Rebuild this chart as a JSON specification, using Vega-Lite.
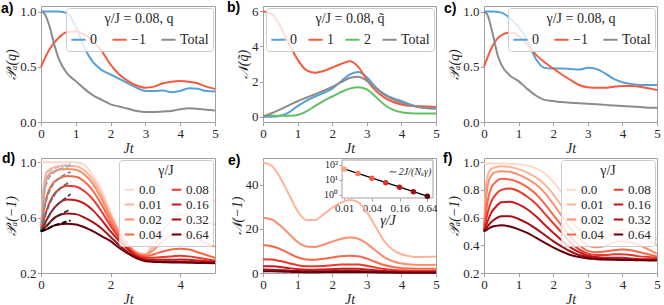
{
"$schema":"https://vega.github.io/schema/vega-lite/v6.json",
"padding":{"left":0,"top":0,"right":0,"bottom":0},
"config":{
"font":"Liberation Serif",
"view":{"stroke":"#a0a0a0","strokeWidth":1},
"axis":{"domain":false,"grid":false,"tickColor":"#a0a0a0","tickSize":3.5,"labelFont":"Liberation Serif","labelFontSize":13,"labelColor":"#262626","titleFont":"Liberation Serif","titleFontSize":14,"titleFontWeight":"normal","titleFontStyle":"italic","titleColor":"#262626","labelPadding":1.5,"labelFlush":false,"labelOverlap":false},
"axisX":{"titlePadding":1},
"axisY":{"titlePadding":1},
"legend":{"orient":"top-right","offset":2,"padding":4,"fillColor":"rgba(255,255,255,0.8)","strokeColor":"#cccccc","cornerRadius":3,"titleFont":"Liberation Serif","titleFontStyle":"normal","titleFontWeight":"normal","titleFontSize":14,"titleColor":"#262626","labelFont":"Liberation Serif","labelFontSize":14,"labelColor":"#262626","symbolType":"stroke","symbolStrokeWidth":2,"symbolSize":200,"titleAnchor":"middle","labelOffset":3,"columnPadding":11},
"title":{"font":"Liberation Sans","fontSize":14,"fontWeight":"bold","anchor":"start","frame":"group","color":"#000000","baseline":"alphabetic","offset":0}
},
"datasets":{
"a":[
{"s":"0","t":0,"v":1},{"s":"0","t":0.25,"v":1},{"s":"0","t":0.5,"v":1},{"s":"0","t":0.75,"v":0.985},{"s":"0","t":1,"v":0.86},{"s":"0","t":1.25,"v":0.67},{"s":"0","t":1.5,"v":0.54},{"s":"0","t":1.75,"v":0.47},{"s":"0","t":2,"v":0.43},{"s":"0","t":2.25,"v":0.39},{"s":"0","t":2.5,"v":0.35},{"s":"0","t":2.75,"v":0.31},{"s":"0","t":3,"v":0.28},{"s":"0","t":3.25,"v":0.28},{"s":"0","t":3.5,"v":0.285},{"s":"0","t":3.75,"v":0.27},{"s":"0","t":4,"v":0.28},{"s":"0","t":4.25,"v":0.305},{"s":"0","t":4.5,"v":0.3},{"s":"0","t":4.75,"v":0.28},{"s":"0","t":5,"v":0.275},
{"s":"−1","t":0,"v":0.5},{"s":"−1","t":0.25,"v":0.66},{"s":"−1","t":0.5,"v":0.76},{"s":"−1","t":0.75,"v":0.815},{"s":"−1","t":1,"v":0.82},{"s":"−1","t":1.25,"v":0.79},{"s":"−1","t":1.5,"v":0.73},{"s":"−1","t":1.75,"v":0.64},{"s":"−1","t":2,"v":0.52},{"s":"−1","t":2.25,"v":0.43},{"s":"−1","t":2.5,"v":0.37},{"s":"−1","t":2.75,"v":0.33},{"s":"−1","t":3,"v":0.31},{"s":"−1","t":3.25,"v":0.32},{"s":"−1","t":3.5,"v":0.35},{"s":"−1","t":3.75,"v":0.365},{"s":"−1","t":4,"v":0.37},{"s":"−1","t":4.25,"v":0.365},{"s":"−1","t":4.5,"v":0.35},{"s":"−1","t":4.75,"v":0.32},{"s":"−1","t":5,"v":0.3},
{"s":"Total","t":0,"v":1},{"s":"Total","t":0.1,"v":0.98},{"s":"Total","t":0.25,"v":0.86},{"s":"Total","t":0.4,"v":0.68},{"s":"Total","t":0.5,"v":0.58},{"s":"Total","t":0.75,"v":0.44},{"s":"Total","t":1,"v":0.37},{"s":"Total","t":1.25,"v":0.3},{"s":"Total","t":1.5,"v":0.24},{"s":"Total","t":1.75,"v":0.2},{"s":"Total","t":2,"v":0.16},{"s":"Total","t":2.25,"v":0.14},{"s":"Total","t":2.5,"v":0.12},{"s":"Total","t":2.75,"v":0.1},{"s":"Total","t":3,"v":0.09},{"s":"Total","t":3.25,"v":0.09},{"s":"Total","t":3.5,"v":0.095},{"s":"Total","t":3.75,"v":0.1},{"s":"Total","t":4,"v":0.115},{"s":"Total","t":4.25,"v":0.125},{"s":"Total","t":4.5,"v":0.12},{"s":"Total","t":4.75,"v":0.11},{"s":"Total","t":5,"v":0.105}
],
"b":[
{"s":"0","t":0,"v":0},{"s":"0","t":0.25,"v":0},{"s":"0","t":0.5,"v":0.05},{"s":"0","t":0.75,"v":0.25},{"s":"0","t":1,"v":0.6},{"s":"0","t":1.25,"v":0.9},{"s":"0","t":1.5,"v":1.15},{"s":"0","t":1.75,"v":1.35},{"s":"0","t":2,"v":1.6},{"s":"0","t":2.25,"v":2},{"s":"0","t":2.5,"v":2.4},{"s":"0","t":2.75,"v":2.55},{"s":"0","t":3,"v":2.25},{"s":"0","t":3.25,"v":1.7},{"s":"0","t":3.5,"v":1.3},{"s":"0","t":3.75,"v":1.05},{"s":"0","t":4,"v":0.9},{"s":"0","t":4.25,"v":0.7},{"s":"0","t":4.5,"v":0.55},{"s":"0","t":4.75,"v":0.48},{"s":"0","t":5,"v":0.45},
{"s":"1","t":0,"v":6},{"s":"1","t":0.25,"v":5.85},{"s":"1","t":0.5,"v":5.15},{"s":"1","t":0.75,"v":4.15},{"s":"1","t":1,"v":3.25},{"s":"1","t":1.25,"v":2.65},{"s":"1","t":1.5,"v":2.5},{"s":"1","t":1.75,"v":2.6},{"s":"1","t":2,"v":2.8},{"s":"1","t":2.25,"v":3},{"s":"1","t":2.5,"v":3.15},{"s":"1","t":2.75,"v":2.85},{"s":"1","t":3,"v":2.1},{"s":"1","t":3.25,"v":1.5},{"s":"1","t":3.5,"v":1.1},{"s":"1","t":3.75,"v":0.85},{"s":"1","t":4,"v":0.7},{"s":"1","t":4.25,"v":0.62},{"s":"1","t":4.5,"v":0.6},{"s":"1","t":4.75,"v":0.58},{"s":"1","t":5,"v":0.56},
{"s":"2","t":0,"v":0.05},{"s":"2","t":0.25,"v":0.05},{"s":"2","t":0.5,"v":0.05},{"s":"2","t":0.75,"v":0.06},{"s":"2","t":1,"v":0.1},{"s":"2","t":1.25,"v":0.3},{"s":"2","t":1.5,"v":0.6},{"s":"2","t":1.75,"v":0.9},{"s":"2","t":2,"v":1.15},{"s":"2","t":2.25,"v":1.4},{"s":"2","t":2.5,"v":1.6},{"s":"2","t":2.75,"v":1.68},{"s":"2","t":3,"v":1.55},{"s":"2","t":3.25,"v":1.15},{"s":"2","t":3.5,"v":0.7},{"s":"2","t":3.75,"v":0.4},{"s":"2","t":4,"v":0.25},{"s":"2","t":4.25,"v":0.2},{"s":"2","t":4.5,"v":0.18},{"s":"2","t":4.75,"v":0.18},{"s":"2","t":5,"v":0.18},
{"s":"Total","t":0,"v":0},{"s":"Total","t":0.25,"v":0.2},{"s":"Total","t":0.5,"v":0.42},{"s":"Total","t":0.75,"v":0.65},{"s":"Total","t":1,"v":0.88},{"s":"Total","t":1.25,"v":1.08},{"s":"Total","t":1.5,"v":1.28},{"s":"Total","t":1.75,"v":1.48},{"s":"Total","t":2,"v":1.7},{"s":"Total","t":2.25,"v":1.95},{"s":"Total","t":2.5,"v":2.2},{"s":"Total","t":2.75,"v":2.28},{"s":"Total","t":3,"v":2.05},{"s":"Total","t":3.25,"v":1.65},{"s":"Total","t":3.5,"v":1.25},{"s":"Total","t":3.75,"v":1},{"s":"Total","t":4,"v":0.8},{"s":"Total","t":4.25,"v":0.65},{"s":"Total","t":4.5,"v":0.55},{"s":"Total","t":4.75,"v":0.5},{"s":"Total","t":5,"v":0.48}
],
"c":[
{"s":"0","t":0,"v":1},{"s":"0","t":0.25,"v":1},{"s":"0","t":0.5,"v":0.99},{"s":"0","t":0.75,"v":0.94},{"s":"0","t":1,"v":0.86},{"s":"0","t":1.25,"v":0.74},{"s":"0","t":1.5,"v":0.57},{"s":"0","t":1.75,"v":0.49},{"s":"0","t":2,"v":0.485},{"s":"0","t":2.25,"v":0.485},{"s":"0","t":2.5,"v":0.48},{"s":"0","t":2.75,"v":0.475},{"s":"0","t":3,"v":0.49},{"s":"0","t":3.25,"v":0.48},{"s":"0","t":3.5,"v":0.44},{"s":"0","t":3.75,"v":0.39},{"s":"0","t":4,"v":0.36},{"s":"0","t":4.25,"v":0.345},{"s":"0","t":4.5,"v":0.335},{"s":"0","t":4.75,"v":0.335},{"s":"0","t":5,"v":0.335},
{"s":"−1","t":0,"v":0.5},{"s":"−1","t":0.25,"v":0.69},{"s":"−1","t":0.5,"v":0.785},{"s":"−1","t":0.75,"v":0.81},{"s":"−1","t":1,"v":0.78},{"s":"−1","t":1.25,"v":0.7},{"s":"−1","t":1.5,"v":0.61},{"s":"−1","t":1.75,"v":0.54},{"s":"−1","t":2,"v":0.485},{"s":"−1","t":2.25,"v":0.43},{"s":"−1","t":2.5,"v":0.38},{"s":"−1","t":2.75,"v":0.335},{"s":"−1","t":3,"v":0.315},{"s":"−1","t":3.25,"v":0.31},{"s":"−1","t":3.5,"v":0.31},{"s":"−1","t":3.75,"v":0.32},{"s":"−1","t":4,"v":0.325},{"s":"−1","t":4.25,"v":0.325},{"s":"−1","t":4.5,"v":0.32},{"s":"−1","t":4.75,"v":0.305},{"s":"−1","t":5,"v":0.29},
{"s":"Total","t":0,"v":1},{"s":"Total","t":0.1,"v":0.97},{"s":"Total","t":0.25,"v":0.8},{"s":"Total","t":0.4,"v":0.6},{"s":"Total","t":0.5,"v":0.52},{"s":"Total","t":0.75,"v":0.42},{"s":"Total","t":1,"v":0.37},{"s":"Total","t":1.25,"v":0.3},{"s":"Total","t":1.5,"v":0.24},{"s":"Total","t":1.75,"v":0.2},{"s":"Total","t":2,"v":0.19},{"s":"Total","t":2.25,"v":0.18},{"s":"Total","t":2.5,"v":0.175},{"s":"Total","t":2.75,"v":0.17},{"s":"Total","t":3,"v":0.165},{"s":"Total","t":3.25,"v":0.16},{"s":"Total","t":3.5,"v":0.155},{"s":"Total","t":3.75,"v":0.15},{"s":"Total","t":4,"v":0.145},{"s":"Total","t":4.25,"v":0.14},{"s":"Total","t":4.5,"v":0.135},{"s":"Total","t":4.75,"v":0.13},{"s":"Total","t":5,"v":0.13}
],
"d":[
{"s":"0.0","t":0,"v":1},{"s":"0.0","t":0.5,"v":1},{"s":"0.0","t":1,"v":1},{"s":"0.0","t":1.25,"v":0.98},{"s":"0.0","t":1.5,"v":0.9},{"s":"0.0","t":1.75,"v":0.79},{"s":"0.0","t":2,"v":0.64},{"s":"0.0","t":2.25,"v":0.5},{"s":"0.0","t":2.5,"v":0.4},{"s":"0.0","t":2.75,"v":0.34},{"s":"0.0","t":2.9,"v":0.32},{"s":"0.0","t":3,"v":0.33},{"s":"0.0","t":3.25,"v":0.46},{"s":"0.0","t":3.5,"v":0.63},{"s":"0.0","t":3.75,"v":0.74},{"s":"0.0","t":4,"v":0.78},{"s":"0.0","t":4.25,"v":0.775},{"s":"0.0","t":4.5,"v":0.76},{"s":"0.0","t":4.75,"v":0.74},{"s":"0.0","t":5,"v":0.72},
{"s":"0.01","t":0,"v":0.5},{"s":"0.01","t":0.05,"v":0.75},{"s":"0.01","t":0.1,"v":0.87},{"s":"0.01","t":0.2,"v":0.94},{"s":"0.01","t":0.35,"v":0.96},{"s":"0.01","t":0.5,"v":0.97},{"s":"0.01","t":0.75,"v":0.975},{"s":"0.01","t":1,"v":0.97},{"s":"0.01","t":1.25,"v":0.94},{"s":"0.01","t":1.5,"v":0.87},{"s":"0.01","t":1.75,"v":0.76},{"s":"0.01","t":2,"v":0.62},{"s":"0.01","t":2.25,"v":0.5},{"s":"0.01","t":2.5,"v":0.41},{"s":"0.01","t":2.75,"v":0.35},{"s":"0.01","t":3,"v":0.335},{"s":"0.01","t":3.25,"v":0.4},{"s":"0.01","t":3.5,"v":0.5},{"s":"0.01","t":3.75,"v":0.58},{"s":"0.01","t":4,"v":0.62},{"s":"0.01","t":4.25,"v":0.62},{"s":"0.01","t":4.5,"v":0.6},{"s":"0.01","t":4.75,"v":0.57},{"s":"0.01","t":5,"v":0.55},
{"s":"0.02","t":0,"v":0.5},{"s":"0.02","t":0.05,"v":0.68},{"s":"0.02","t":0.1,"v":0.8},{"s":"0.02","t":0.2,"v":0.9},{"s":"0.02","t":0.35,"v":0.93},{"s":"0.02","t":0.5,"v":0.945},{"s":"0.02","t":0.75,"v":0.95},{"s":"0.02","t":1,"v":0.945},{"s":"0.02","t":1.25,"v":0.91},{"s":"0.02","t":1.5,"v":0.84},{"s":"0.02","t":1.75,"v":0.73},{"s":"0.02","t":2,"v":0.6},{"s":"0.02","t":2.25,"v":0.49},{"s":"0.02","t":2.5,"v":0.4},{"s":"0.02","t":2.75,"v":0.345},{"s":"0.02","t":3,"v":0.33},{"s":"0.02","t":3.25,"v":0.37},{"s":"0.02","t":3.5,"v":0.43},{"s":"0.02","t":3.75,"v":0.47},{"s":"0.02","t":4,"v":0.48},{"s":"0.02","t":4.25,"v":0.47},{"s":"0.02","t":4.5,"v":0.445},{"s":"0.02","t":4.75,"v":0.415},{"s":"0.02","t":5,"v":0.39},
{"s":"0.04","t":0,"v":0.5},{"s":"0.04","t":0.05,"v":0.6},{"s":"0.04","t":0.1,"v":0.68},{"s":"0.04","t":0.2,"v":0.78},{"s":"0.04","t":0.35,"v":0.85},{"s":"0.04","t":0.5,"v":0.88},{"s":"0.04","t":0.75,"v":0.9},{"s":"0.04","t":1,"v":0.895},{"s":"0.04","t":1.25,"v":0.86},{"s":"0.04","t":1.5,"v":0.79},{"s":"0.04","t":1.75,"v":0.69},{"s":"0.04","t":2,"v":0.57},{"s":"0.04","t":2.25,"v":0.47},{"s":"0.04","t":2.5,"v":0.39},{"s":"0.04","t":2.75,"v":0.34},{"s":"0.04","t":3,"v":0.32},{"s":"0.04","t":3.25,"v":0.335},{"s":"0.04","t":3.5,"v":0.355},{"s":"0.04","t":3.75,"v":0.37},{"s":"0.04","t":4,"v":0.375},{"s":"0.04","t":4.25,"v":0.37},{"s":"0.04","t":4.5,"v":0.35},{"s":"0.04","t":4.75,"v":0.33},{"s":"0.04","t":5,"v":0.31},
{"s":"0.08","t":0,"v":0.5},{"s":"0.08","t":0.05,"v":0.55},{"s":"0.08","t":0.1,"v":0.6},{"s":"0.08","t":0.2,"v":0.68},{"s":"0.08","t":0.35,"v":0.76},{"s":"0.08","t":0.5,"v":0.8},{"s":"0.08","t":0.75,"v":0.83},{"s":"0.08","t":1,"v":0.825},{"s":"0.08","t":1.25,"v":0.79},{"s":"0.08","t":1.5,"v":0.73},{"s":"0.08","t":1.75,"v":0.64},{"s":"0.08","t":2,"v":0.54},{"s":"0.08","t":2.25,"v":0.45},{"s":"0.08","t":2.5,"v":0.38},{"s":"0.08","t":2.75,"v":0.33},{"s":"0.08","t":3,"v":0.31},{"s":"0.08","t":3.25,"v":0.31},{"s":"0.08","t":3.5,"v":0.315},{"s":"0.08","t":3.75,"v":0.32},{"s":"0.08","t":4,"v":0.325},{"s":"0.08","t":4.25,"v":0.32},{"s":"0.08","t":4.5,"v":0.31},{"s":"0.08","t":4.75,"v":0.3},{"s":"0.08","t":5,"v":0.29},
{"s":"0.16","t":0,"v":0.5},{"s":"0.16","t":0.05,"v":0.525},{"s":"0.16","t":0.1,"v":0.55},{"s":"0.16","t":0.2,"v":0.6},{"s":"0.16","t":0.35,"v":0.66},{"s":"0.16","t":0.5,"v":0.7},{"s":"0.16","t":0.75,"v":0.73},{"s":"0.16","t":1,"v":0.725},{"s":"0.16","t":1.25,"v":0.7},{"s":"0.16","t":1.5,"v":0.65},{"s":"0.16","t":1.75,"v":0.58},{"s":"0.16","t":2,"v":0.5},{"s":"0.16","t":2.25,"v":0.43},{"s":"0.16","t":2.5,"v":0.37},{"s":"0.16","t":2.75,"v":0.32},{"s":"0.16","t":3,"v":0.3},{"s":"0.16","t":3.25,"v":0.295},{"s":"0.16","t":3.5,"v":0.295},{"s":"0.16","t":3.75,"v":0.295},{"s":"0.16","t":4,"v":0.297},{"s":"0.16","t":4.25,"v":0.295},{"s":"0.16","t":4.5,"v":0.29},{"s":"0.16","t":4.75,"v":0.285},{"s":"0.16","t":5,"v":0.28},
{"s":"0.32","t":0,"v":0.5},{"s":"0.32","t":0.05,"v":0.512},{"s":"0.32","t":0.1,"v":0.525},{"s":"0.32","t":0.2,"v":0.55},{"s":"0.32","t":0.35,"v":0.59},{"s":"0.32","t":0.5,"v":0.615},{"s":"0.32","t":0.75,"v":0.63},{"s":"0.32","t":1,"v":0.625},{"s":"0.32","t":1.25,"v":0.6},{"s":"0.32","t":1.5,"v":0.565},{"s":"0.32","t":1.75,"v":0.52},{"s":"0.32","t":2,"v":0.46},{"s":"0.32","t":2.25,"v":0.4},{"s":"0.32","t":2.5,"v":0.35},{"s":"0.32","t":2.75,"v":0.31},{"s":"0.32","t":3,"v":0.29},{"s":"0.32","t":3.25,"v":0.285},{"s":"0.32","t":3.5,"v":0.283},{"s":"0.32","t":3.75,"v":0.282},{"s":"0.32","t":4,"v":0.282},{"s":"0.32","t":4.25,"v":0.28},{"s":"0.32","t":4.5,"v":0.278},{"s":"0.32","t":4.75,"v":0.276},{"s":"0.32","t":5,"v":0.275},
{"s":"0.64","t":0,"v":0.5},{"s":"0.64","t":0.05,"v":0.505},{"s":"0.64","t":0.1,"v":0.51},{"s":"0.64","t":0.2,"v":0.52},{"s":"0.64","t":0.35,"v":0.54},{"s":"0.64","t":0.5,"v":0.55},{"s":"0.64","t":0.75,"v":0.555},{"s":"0.64","t":1,"v":0.55},{"s":"0.64","t":1.25,"v":0.53},{"s":"0.64","t":1.5,"v":0.5},{"s":"0.64","t":1.75,"v":0.465},{"s":"0.64","t":2,"v":0.43},{"s":"0.64","t":2.25,"v":0.38},{"s":"0.64","t":2.5,"v":0.34},{"s":"0.64","t":2.75,"v":0.305},{"s":"0.64","t":3,"v":0.285},{"s":"0.64","t":3.25,"v":0.28},{"s":"0.64","t":3.5,"v":0.278},{"s":"0.64","t":3.75,"v":0.276},{"s":"0.64","t":4,"v":0.275},{"s":"0.64","t":4.25,"v":0.274},{"s":"0.64","t":4.5,"v":0.273},{"s":"0.64","t":4.75,"v":0.272},{"s":"0.64","t":5,"v":0.27}
],
"dd":[
{"s":"0.01","t":0,"v":0.5},{"s":"0.01","t":0.1,"v":0.86},{"s":"0.01","t":0.2,"v":0.92},{"s":"0.01","t":0.35,"v":0.95},{"s":"0.01","t":0.5,"v":0.965},{"s":"0.01","t":0.65,"v":0.977},{"s":"0.01","t":0.85,"v":0.99},
{"s":"0.02","t":0,"v":0.5},{"s":"0.02","t":0.1,"v":0.78},{"s":"0.02","t":0.2,"v":0.87},{"s":"0.02","t":0.35,"v":0.92},{"s":"0.02","t":0.5,"v":0.945},{"s":"0.02","t":0.65,"v":0.96},{"s":"0.02","t":0.85,"v":0.975},
{"s":"0.04","t":0,"v":0.5},{"s":"0.04","t":0.1,"v":0.67},{"s":"0.04","t":0.2,"v":0.76},{"s":"0.04","t":0.35,"v":0.84},{"s":"0.04","t":0.5,"v":0.88},{"s":"0.04","t":0.65,"v":0.905},{"s":"0.04","t":0.85,"v":0.93},
{"s":"0.08","t":0,"v":0.5},{"s":"0.08","t":0.1,"v":0.595},{"s":"0.08","t":0.2,"v":0.67},{"s":"0.08","t":0.35,"v":0.75},{"s":"0.08","t":0.5,"v":0.8},{"s":"0.08","t":0.65,"v":0.83},{"s":"0.08","t":0.85,"v":0.86},
{"s":"0.16","t":0,"v":0.5},{"s":"0.16","t":0.1,"v":0.55},{"s":"0.16","t":0.2,"v":0.6},{"s":"0.16","t":0.35,"v":0.66},{"s":"0.16","t":0.5,"v":0.7},{"s":"0.16","t":0.65,"v":0.73},{"s":"0.16","t":0.85,"v":0.77},
{"s":"0.32","t":0,"v":0.5},{"s":"0.32","t":0.1,"v":0.525},{"s":"0.32","t":0.2,"v":0.55},{"s":"0.32","t":0.35,"v":0.59},{"s":"0.32","t":0.5,"v":0.615},{"s":"0.32","t":0.65,"v":0.635},{"s":"0.32","t":0.85,"v":0.66},
{"s":"0.64","t":0,"v":0.5},{"s":"0.64","t":0.1,"v":0.51},{"s":"0.64","t":0.2,"v":0.52},{"s":"0.64","t":0.35,"v":0.54},{"s":"0.64","t":0.5,"v":0.553},{"s":"0.64","t":0.65,"v":0.565},{"s":"0.64","t":0.85,"v":0.58}
],
"e":[
{"s":"0.01","t":0,"v":50},{"s":"0.01","t":0.25,"v":48.5},{"s":"0.01","t":0.5,"v":43},{"s":"0.01","t":0.75,"v":35.5},{"s":"0.01","t":1,"v":28},{"s":"0.01","t":1.25,"v":24},{"s":"0.01","t":1.5,"v":24},{"s":"0.01","t":1.75,"v":26.5},{"s":"0.01","t":2,"v":29.5},{"s":"0.01","t":2.25,"v":31.8},{"s":"0.01","t":2.5,"v":33},{"s":"0.01","t":2.75,"v":32},{"s":"0.01","t":3,"v":27.5},{"s":"0.01","t":3.25,"v":21},{"s":"0.01","t":3.5,"v":14.5},{"s":"0.01","t":3.75,"v":10.5},{"s":"0.01","t":4,"v":8.5},{"s":"0.01","t":4.25,"v":7.6},{"s":"0.01","t":4.5,"v":7.2},{"s":"0.01","t":4.75,"v":7.3},{"s":"0.01","t":5,"v":7.5},
{"s":"0.02","t":0,"v":25},{"s":"0.02","t":0.25,"v":24.2},{"s":"0.02","t":0.5,"v":21.5},{"s":"0.02","t":0.75,"v":17.7},{"s":"0.02","t":1,"v":14},{"s":"0.02","t":1.25,"v":12},{"s":"0.02","t":1.5,"v":11.8},{"s":"0.02","t":1.75,"v":12.8},{"s":"0.02","t":2,"v":14.2},{"s":"0.02","t":2.25,"v":15.4},{"s":"0.02","t":2.5,"v":16},{"s":"0.02","t":2.75,"v":15.5},{"s":"0.02","t":3,"v":13.3},{"s":"0.02","t":3.25,"v":10.2},{"s":"0.02","t":3.5,"v":7.2},{"s":"0.02","t":3.75,"v":5.3},{"s":"0.02","t":4,"v":4.3},{"s":"0.02","t":4.25,"v":3.8},{"s":"0.02","t":4.5,"v":3.6},{"s":"0.02","t":4.75,"v":3.6},{"s":"0.02","t":5,"v":3.7},
{"s":"0.04","t":0,"v":12.5},{"s":"0.04","t":0.25,"v":12.1},{"s":"0.04","t":0.5,"v":10.8},{"s":"0.04","t":0.75,"v":8.9},{"s":"0.04","t":1,"v":7.1},{"s":"0.04","t":1.25,"v":6.1},{"s":"0.04","t":1.5,"v":6},{"s":"0.04","t":1.75,"v":6.4},{"s":"0.04","t":2,"v":7},{"s":"0.04","t":2.25,"v":7.6},{"s":"0.04","t":2.5,"v":7.8},{"s":"0.04","t":2.75,"v":7.6},{"s":"0.04","t":3,"v":6.5},{"s":"0.04","t":3.25,"v":5},{"s":"0.04","t":3.5,"v":3.6},{"s":"0.04","t":3.75,"v":2.7},{"s":"0.04","t":4,"v":2.2},{"s":"0.04","t":4.25,"v":2},{"s":"0.04","t":4.5,"v":1.9},{"s":"0.04","t":4.75,"v":1.9},{"s":"0.04","t":5,"v":1.9},
{"s":"0.08","t":0,"v":6.2},{"s":"0.08","t":0.25,"v":6.05},{"s":"0.08","t":0.5,"v":5.4},{"s":"0.08","t":0.75,"v":4.45},{"s":"0.08","t":1,"v":3.55},{"s":"0.08","t":1.25,"v":3.05},{"s":"0.08","t":1.5,"v":3},{"s":"0.08","t":1.75,"v":3.2},{"s":"0.08","t":2,"v":3.5},{"s":"0.08","t":2.25,"v":3.8},{"s":"0.08","t":2.5,"v":3.9},{"s":"0.08","t":2.75,"v":3.8},{"s":"0.08","t":3,"v":3.25},{"s":"0.08","t":3.25,"v":2.5},{"s":"0.08","t":3.5,"v":1.8},{"s":"0.08","t":3.75,"v":1.35},{"s":"0.08","t":4,"v":1.1},{"s":"0.08","t":4.25,"v":1},{"s":"0.08","t":4.5,"v":0.95},{"s":"0.08","t":4.75,"v":0.95},{"s":"0.08","t":5,"v":0.95},
{"s":"0.16","t":0,"v":3.1},{"s":"0.16","t":0.25,"v":3},{"s":"0.16","t":0.5,"v":2.7},{"s":"0.16","t":0.75,"v":2.2},{"s":"0.16","t":1,"v":1.75},{"s":"0.16","t":1.25,"v":1.5},{"s":"0.16","t":1.5,"v":1.5},{"s":"0.16","t":1.75,"v":1.6},{"s":"0.16","t":2,"v":1.75},{"s":"0.16","t":2.25,"v":1.9},{"s":"0.16","t":2.5,"v":1.95},{"s":"0.16","t":2.75,"v":1.9},{"s":"0.16","t":3,"v":1.6},{"s":"0.16","t":3.25,"v":1.25},{"s":"0.16","t":3.5,"v":0.9},{"s":"0.16","t":3.75,"v":0.68},{"s":"0.16","t":4,"v":0.55},{"s":"0.16","t":4.25,"v":0.5},{"s":"0.16","t":4.5,"v":0.48},{"s":"0.16","t":4.75,"v":0.48},{"s":"0.16","t":5,"v":0.48},
{"s":"0.32","t":0,"v":1.55},{"s":"0.32","t":0.25,"v":1.5},{"s":"0.32","t":0.5,"v":1.35},{"s":"0.32","t":0.75,"v":1.1},{"s":"0.32","t":1,"v":0.88},{"s":"0.32","t":1.25,"v":0.75},{"s":"0.32","t":1.5,"v":0.75},{"s":"0.32","t":1.75,"v":0.8},{"s":"0.32","t":2,"v":0.88},{"s":"0.32","t":2.25,"v":0.95},{"s":"0.32","t":2.5,"v":0.98},{"s":"0.32","t":2.75,"v":0.95},{"s":"0.32","t":3,"v":0.8},{"s":"0.32","t":3.25,"v":0.62},{"s":"0.32","t":3.5,"v":0.45},{"s":"0.32","t":3.75,"v":0.34},{"s":"0.32","t":4,"v":0.28},{"s":"0.32","t":4.25,"v":0.25},{"s":"0.32","t":4.5,"v":0.24},{"s":"0.32","t":4.75,"v":0.24},{"s":"0.32","t":5,"v":0.24},
{"s":"0.64","t":0,"v":0.78},{"s":"0.64","t":0.25,"v":0.75},{"s":"0.64","t":0.5,"v":0.68},{"s":"0.64","t":0.75,"v":0.55},{"s":"0.64","t":1,"v":0.44},{"s":"0.64","t":1.25,"v":0.38},{"s":"0.64","t":1.5,"v":0.37},{"s":"0.64","t":1.75,"v":0.4},{"s":"0.64","t":2,"v":0.44},{"s":"0.64","t":2.25,"v":0.47},{"s":"0.64","t":2.5,"v":0.49},{"s":"0.64","t":2.75,"v":0.47},{"s":"0.64","t":3,"v":0.4},{"s":"0.64","t":3.25,"v":0.31},{"s":"0.64","t":3.5,"v":0.23},{"s":"0.64","t":3.75,"v":0.17},{"s":"0.64","t":4,"v":0.14},{"s":"0.64","t":4.25,"v":0.12},{"s":"0.64","t":4.5,"v":0.12},{"s":"0.64","t":4.75,"v":0.12},{"s":"0.64","t":5,"v":0.12}
],
"ei":[
{"s":"0.01","g":0.01,"n":50},{"s":"0.02","g":0.02,"n":25},{"s":"0.04","g":0.04,"n":12.5},{"s":"0.08","g":0.08,"n":6.2},{"s":"0.16","g":0.16,"n":3.1},{"s":"0.32","g":0.32,"n":1.55},{"s":"0.64","g":0.64,"n":0.78}
],
"ef":[
{"g":0.01,"n":52},{"g":0.64,"n":0.8}
],
"f":[
{"s":"0.0","t":0,"v":0.99},{"s":"0.0","t":0.5,"v":0.99},{"s":"0.0","t":1,"v":0.985},{"s":"0.0","t":1.25,"v":0.975},{"s":"0.0","t":1.5,"v":0.955},{"s":"0.0","t":1.75,"v":0.92},{"s":"0.0","t":2,"v":0.86},{"s":"0.0","t":2.25,"v":0.78},{"s":"0.0","t":2.5,"v":0.69},{"s":"0.0","t":2.75,"v":0.6},{"s":"0.0","t":3,"v":0.53},{"s":"0.0","t":3.25,"v":0.5},{"s":"0.0","t":3.5,"v":0.51},{"s":"0.0","t":3.75,"v":0.55},{"s":"0.0","t":4,"v":0.58},{"s":"0.0","t":4.25,"v":0.575},{"s":"0.0","t":4.5,"v":0.55},{"s":"0.0","t":4.75,"v":0.5},{"s":"0.0","t":5,"v":0.44},
{"s":"0.01","t":0,"v":0.5},{"s":"0.01","t":0.05,"v":0.8},{"s":"0.01","t":0.1,"v":0.9},{"s":"0.01","t":0.2,"v":0.95},{"s":"0.01","t":0.35,"v":0.965},{"s":"0.01","t":0.5,"v":0.97},{"s":"0.01","t":0.75,"v":0.965},{"s":"0.01","t":1,"v":0.95},{"s":"0.01","t":1.25,"v":0.925},{"s":"0.01","t":1.5,"v":0.89},{"s":"0.01","t":1.75,"v":0.84},{"s":"0.01","t":2,"v":0.77},{"s":"0.01","t":2.25,"v":0.68},{"s":"0.01","t":2.5,"v":0.59},{"s":"0.01","t":2.75,"v":0.51},{"s":"0.01","t":3,"v":0.46},{"s":"0.01","t":3.25,"v":0.44},{"s":"0.01","t":3.5,"v":0.455},{"s":"0.01","t":3.75,"v":0.49},{"s":"0.01","t":4,"v":0.51},{"s":"0.01","t":4.25,"v":0.505},{"s":"0.01","t":4.5,"v":0.48},{"s":"0.01","t":4.75,"v":0.44},{"s":"0.01","t":5,"v":0.4},
{"s":"0.02","t":0,"v":0.5},{"s":"0.02","t":0.05,"v":0.7},{"s":"0.02","t":0.1,"v":0.82},{"s":"0.02","t":0.2,"v":0.9},{"s":"0.02","t":0.35,"v":0.93},{"s":"0.02","t":0.5,"v":0.935},{"s":"0.02","t":0.75,"v":0.93},{"s":"0.02","t":1,"v":0.91},{"s":"0.02","t":1.25,"v":0.88},{"s":"0.02","t":1.5,"v":0.84},{"s":"0.02","t":1.75,"v":0.78},{"s":"0.02","t":2,"v":0.7},{"s":"0.02","t":2.25,"v":0.61},{"s":"0.02","t":2.5,"v":0.52},{"s":"0.02","t":2.75,"v":0.45},{"s":"0.02","t":3,"v":0.4},{"s":"0.02","t":3.25,"v":0.385},{"s":"0.02","t":3.5,"v":0.395},{"s":"0.02","t":3.75,"v":0.42},{"s":"0.02","t":4,"v":0.43},{"s":"0.02","t":4.25,"v":0.42},{"s":"0.02","t":4.5,"v":0.4},{"s":"0.02","t":4.75,"v":0.37},{"s":"0.02","t":5,"v":0.34},
{"s":"0.04","t":0,"v":0.5},{"s":"0.04","t":0.05,"v":0.62},{"s":"0.04","t":0.1,"v":0.71},{"s":"0.04","t":0.2,"v":0.81},{"s":"0.04","t":0.35,"v":0.86},{"s":"0.04","t":0.5,"v":0.88},{"s":"0.04","t":0.75,"v":0.875},{"s":"0.04","t":1,"v":0.855},{"s":"0.04","t":1.25,"v":0.82},{"s":"0.04","t":1.5,"v":0.77},{"s":"0.04","t":1.75,"v":0.7},{"s":"0.04","t":2,"v":0.62},{"s":"0.04","t":2.25,"v":0.54},{"s":"0.04","t":2.5,"v":0.46},{"s":"0.04","t":2.75,"v":0.4},{"s":"0.04","t":3,"v":0.36},{"s":"0.04","t":3.25,"v":0.35},{"s":"0.04","t":3.5,"v":0.355},{"s":"0.04","t":3.75,"v":0.365},{"s":"0.04","t":4,"v":0.37},{"s":"0.04","t":4.25,"v":0.365},{"s":"0.04","t":4.5,"v":0.35},{"s":"0.04","t":4.75,"v":0.335},{"s":"0.04","t":5,"v":0.32},
{"s":"0.08","t":0,"v":0.5},{"s":"0.08","t":0.05,"v":0.57},{"s":"0.08","t":0.1,"v":0.63},{"s":"0.08","t":0.2,"v":0.71},{"s":"0.08","t":0.35,"v":0.77},{"s":"0.08","t":0.5,"v":0.8},{"s":"0.08","t":0.75,"v":0.81},{"s":"0.08","t":1,"v":0.79},{"s":"0.08","t":1.25,"v":0.75},{"s":"0.08","t":1.5,"v":0.7},{"s":"0.08","t":1.75,"v":0.63},{"s":"0.08","t":2,"v":0.56},{"s":"0.08","t":2.25,"v":0.49},{"s":"0.08","t":2.5,"v":0.42},{"s":"0.08","t":2.75,"v":0.37},{"s":"0.08","t":3,"v":0.34},{"s":"0.08","t":3.25,"v":0.33},{"s":"0.08","t":3.5,"v":0.33},{"s":"0.08","t":3.75,"v":0.335},{"s":"0.08","t":4,"v":0.335},{"s":"0.08","t":4.25,"v":0.33},{"s":"0.08","t":4.5,"v":0.32},{"s":"0.08","t":4.75,"v":0.315},{"s":"0.08","t":5,"v":0.31},
{"s":"0.16","t":0,"v":0.5},{"s":"0.16","t":0.05,"v":0.535},{"s":"0.16","t":0.1,"v":0.57},{"s":"0.16","t":0.2,"v":0.63},{"s":"0.16","t":0.35,"v":0.68},{"s":"0.16","t":0.5,"v":0.71},{"s":"0.16","t":0.75,"v":0.715},{"s":"0.16","t":1,"v":0.695},{"s":"0.16","t":1.25,"v":0.66},{"s":"0.16","t":1.5,"v":0.61},{"s":"0.16","t":1.75,"v":0.55},{"s":"0.16","t":2,"v":0.49},{"s":"0.16","t":2.25,"v":0.435},{"s":"0.16","t":2.5,"v":0.385},{"s":"0.16","t":2.75,"v":0.35},{"s":"0.16","t":3,"v":0.325},{"s":"0.16","t":3.25,"v":0.315},{"s":"0.16","t":3.5,"v":0.31},{"s":"0.16","t":3.75,"v":0.31},{"s":"0.16","t":4,"v":0.31},{"s":"0.16","t":4.25,"v":0.305},{"s":"0.16","t":4.5,"v":0.3},{"s":"0.16","t":4.75,"v":0.3},{"s":"0.16","t":5,"v":0.3},
{"s":"0.32","t":0,"v":0.5},{"s":"0.32","t":0.05,"v":0.518},{"s":"0.32","t":0.1,"v":0.535},{"s":"0.32","t":0.2,"v":0.565},{"s":"0.32","t":0.35,"v":0.595},{"s":"0.32","t":0.5,"v":0.61},{"s":"0.32","t":0.75,"v":0.61},{"s":"0.32","t":1,"v":0.59},{"s":"0.32","t":1.25,"v":0.56},{"s":"0.32","t":1.5,"v":0.52},{"s":"0.32","t":1.75,"v":0.475},{"s":"0.32","t":2,"v":0.43},{"s":"0.32","t":2.25,"v":0.39},{"s":"0.32","t":2.5,"v":0.355},{"s":"0.32","t":2.75,"v":0.33},{"s":"0.32","t":3,"v":0.315},{"s":"0.32","t":3.25,"v":0.305},{"s":"0.32","t":3.5,"v":0.3},{"s":"0.32","t":3.75,"v":0.3},{"s":"0.32","t":4,"v":0.298},{"s":"0.32","t":4.25,"v":0.296},{"s":"0.32","t":4.5,"v":0.295},{"s":"0.32","t":4.75,"v":0.294},{"s":"0.32","t":5,"v":0.293},
{"s":"0.64","t":0,"v":0.5},{"s":"0.64","t":0.05,"v":0.508},{"s":"0.64","t":0.1,"v":0.515},{"s":"0.64","t":0.2,"v":0.53},{"s":"0.64","t":0.35,"v":0.54},{"s":"0.64","t":0.5,"v":0.545},{"s":"0.64","t":0.75,"v":0.535},{"s":"0.64","t":1,"v":0.515},{"s":"0.64","t":1.25,"v":0.49},{"s":"0.64","t":1.5,"v":0.455},{"s":"0.64","t":1.75,"v":0.42},{"s":"0.64","t":2,"v":0.385},{"s":"0.64","t":2.25,"v":0.355},{"s":"0.64","t":2.5,"v":0.33},{"s":"0.64","t":2.75,"v":0.315},{"s":"0.64","t":3,"v":0.305},{"s":"0.64","t":3.25,"v":0.3},{"s":"0.64","t":3.5,"v":0.297},{"s":"0.64","t":3.75,"v":0.295},{"s":"0.64","t":4,"v":0.294},{"s":"0.64","t":4.25,"v":0.293},{"s":"0.64","t":4.5,"v":0.292},{"s":"0.64","t":4.75,"v":0.291},{"s":"0.64","t":5,"v":0.29}
]
},
"bounds":"flush",
"columns":3,
"spacing":{"row":36,"column":48},
"resolve":{"scale":{"x":"independent","y":"independent","color":"independent","stroke":"independent"},"axis":{"x":"independent","y":"independent"},"legend":{"color":"independent","stroke":"independent"}},
"concat":[
{"width":174,"height":116,"title":{"text":"a)","dx":-40,"dy":14},
"data":{"name":"a"},"mark":{"type":"line","interpolate":"monotone","strokeWidth":2},
"encoding":{
"x":{"field":"t","type":"quantitative","scale":{"domain":[0,5],"nice":false},"axis":{"values":[0,1,2,3,4,5],"title":"Jt"}},
"y":{"field":"v","type":"quantitative","scale":{"domain":[0,1.05],"nice":false},"axis":{"values":[0,0.5,1],"format":".1f","title":"𝒫ₐ(q)"}},
"color":{"field":"s","type":"nominal","scale":{"domain":["0","−1","Total"],"range":["#55a0d8","#f55b3f","#8c8c8c"]},"legend":{"title":"γ/J = 0.08, q","direction":"horizontal"}}}},
{"width":173,"height":116,"title":{"text":"b)","dx":-36,"dy":14},
"data":{"name":"b"},"mark":{"type":"line","interpolate":"monotone","strokeWidth":2},
"encoding":{
"x":{"field":"t","type":"quantitative","scale":{"domain":[0,5],"nice":false},"axis":{"values":[0,1,2,3,4,5],"title":"Jt"}},
"y":{"field":"v","type":"quantitative","scale":{"domain":[-0.3,6.3],"nice":false,"zero":false},"axis":{"values":[0,2,4,6],"title":"𝒩(q̃)"}},
"color":{"field":"s","type":"nominal","scale":{"domain":["0","1","2","Total"],"range":["#55a0d8","#f55b3f","#62bf62","#8c8c8c"]},"legend":{"title":"γ/J = 0.08, q̃","direction":"horizontal","columnPadding":7}}}},
{"width":173,"height":116,"title":{"text":"c)","dx":-40,"dy":14},
"data":{"name":"c"},"mark":{"type":"line","interpolate":"monotone","strokeWidth":2},
"encoding":{
"x":{"field":"t","type":"quantitative","scale":{"domain":[0,5],"nice":false},"axis":{"values":[0,1,2,3,4,5],"title":"Jt"}},
"y":{"field":"v","type":"quantitative","scale":{"domain":[0,1.05],"nice":false},"axis":{"values":[0,0.5,1],"format":".1f","title":"𝒫ₐ(q)"}},
"color":{"field":"s","type":"nominal","scale":{"domain":["0","−1","Total"],"range":["#55a0d8","#f55b3f","#8c8c8c"]},"legend":{"title":"γ/J = 0.08, q","direction":"horizontal"}}}},
{"width":174,"height":115,"title":{"text":"d)","dx":-39,"dy":14},
"layer":[
{"data":{"name":"d"},"mark":{"type":"line","interpolate":"monotone","strokeWidth":2},
"encoding":{
"x":{"field":"t","type":"quantitative","scale":{"domain":[0,5],"nice":false},"axis":{"values":[0,1,2,3,4,5],"title":"Jt"}},
"y":{"field":"v","type":"quantitative","scale":{"domain":[0.2,1.03],"nice":false,"zero":false},"axis":{"values":[0.2,0.4,0.6,0.8,1],"format":".1f","title":"𝒫ₐ(−1)"}},
"color":{"field":"s","type":"nominal","scale":{"domain":["0.0","0.01","0.02","0.04","0.08","0.16","0.32","0.64"],"range":["#fed9c9","#fcb499","#fc8e6d","#fa6748","#ec382a","#c9171c","#a30f15","#67000d"]},"legend":{"title":"γ/J","columns":2,"symbolSize":90,"labelFontSize":13,"rowPadding":1,"columnPadding":5}}}},
{"data":{"name":"dd"},"mark":{"type":"line","interpolate":"monotone","strokeWidth":1.8,"strokeDash":[5,2.5]},
"encoding":{
"x":{"field":"t","type":"quantitative"},
"y":{"field":"v","type":"quantitative"},
"stroke":{"field":"s","type":"nominal","scale":{"domain":["0.01","0.02","0.04","0.08","0.16","0.32","0.64"],"range":["#c4c4c4","#a8a8a8","#8a8a8a","#6c6c6c","#4c4c4c","#2c2c2c","#000000"]},"legend":null}}}
]},
{"width":173,"height":115,"title":{"text":"e)","dx":-35,"dy":14},
"layer":[
{"data":{"name":"e"},"mark":{"type":"line","interpolate":"monotone","strokeWidth":2},
"encoding":{
"x":{"field":"t","type":"quantitative","scale":{"domain":[0,5],"nice":false},"axis":{"values":[0,1,2,3,4,5],"title":"Jt"}},
"y":{"field":"v","type":"quantitative","scale":{"domain":[0,52],"nice":false},"axis":{"values":[0,20,40],"title":"𝒩(−1)"}},
"color":{"field":"s","type":"nominal","scale":{"domain":["0.01","0.02","0.04","0.08","0.16","0.32","0.64"],"range":["#fcb499","#fc8e6d","#fa6748","#ec382a","#c9171c","#a30f15","#67000d"]},"legend":null}}},
{"layer":[
{"data":{"values":[{}]},"mark":{"type":"rect","fill":"#ffffff","stroke":"#a0a0a0","strokeWidth":1},
"encoding":{
"x":{"datum":0.009,"type":"quantitative","scale":{"type":"log","domain":[0.009,0.85],"range":[79,170],"nice":false},"axis":{"orient":"bottom","offset":-75,"values":[0.01,0.04,0.16,0.64],"format":".2f","labelFontSize":11,"title":"γ/J","titlePadding":0,"tickSize":3}},
"x2":{"datum":0.85},
"y":{"datum":0.6,"type":"quantitative","scale":{"type":"log","domain":[0.6,200],"range":[40,2],"nice":false},"axis":{"orient":"left","offset":-79,"values":[1,10,100],"labelExpr":"datum.value == 1 ? '10⁰' : datum.value == 10 ? '10¹' : '10²'","labelFontSize":10,"title":null,"tickSize":3}},
"y2":{"datum":200}}},
{"data":{"name":"ef"},"mark":{"type":"line","color":"#000000","strokeWidth":1.2},
"encoding":{"x":{"field":"g","type":"quantitative"},"y":{"field":"n","type":"quantitative"}}},
{"data":{"name":"ei"},"mark":{"type":"circle","size":30,"opacity":1},
"encoding":{"x":{"field":"g","type":"quantitative"},"y":{"field":"n","type":"quantitative"},
"color":{"field":"s","type":"nominal","scale":{"domain":["0.01","0.02","0.04","0.08","0.16","0.32","0.64"],"range":["#fc9e80","#fb7a5a","#f4583d","#e32f27","#c2161b","#a10e15","#67000d"]},"legend":null}}},
{"data":{"values":[{}]},"mark":{"type":"text","font":"Liberation Serif","fontSize":10,"fontStyle":"italic","align":"right","baseline":"middle","color":"#262626"},
"encoding":{"x":{"datum":0.78,"type":"quantitative"},"y":{"datum":32,"type":"quantitative"},"text":{"value":"∼ 2J/(Nₐγ)"}}}
]}
],
"resolve":{"scale":{"x":"independent","y":"independent","color":"independent"},"axis":{"x":"independent","y":"independent"}}},
{"width":173,"height":115,"title":{"text":"f)","dx":-41,"dy":14},
"data":{"name":"f"},"mark":{"type":"line","interpolate":"monotone","strokeWidth":2},
"encoding":{
"x":{"field":"t","type":"quantitative","scale":{"domain":[0,5],"nice":false},"axis":{"values":[0,1,2,3,4,5],"title":"Jt"}},
"y":{"field":"v","type":"quantitative","scale":{"domain":[0.2,1.03],"nice":false,"zero":false},"axis":{"values":[0.2,0.4,0.6,0.8,1],"format":".1f","title":"𝒫ₐ(−1)"}},
"color":{"field":"s","type":"nominal","scale":{"domain":["0.0","0.01","0.02","0.04","0.08","0.16","0.32","0.64"],"range":["#fed9c9","#fcb499","#fc8e6d","#fa6748","#ec382a","#c9171c","#a30f15","#67000d"]},"legend":{"title":"γ/J","columns":2,"symbolSize":90,"labelFontSize":13,"rowPadding":1,"columnPadding":5}}}}
]
}
